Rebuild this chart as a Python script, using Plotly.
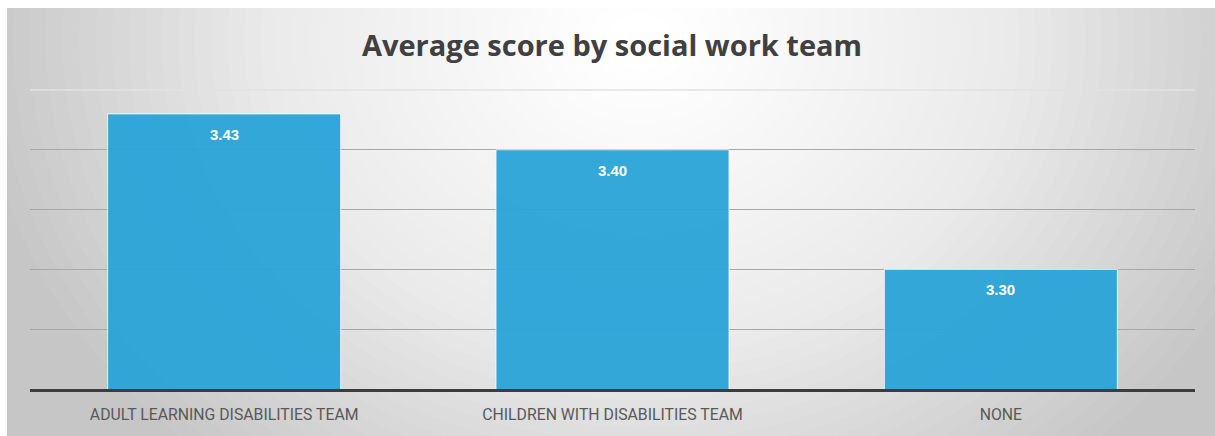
import plotly.graph_objects as go

# Chart data
teams = ["ADULT LEARNING DISABILITIES TEAM", "CHILDREN WITH DISABILITIES TEAM", "NONE"]
avg_scores = [3.43, 3.40, 3.30]
score_labels = [f"{v:.2f}" for v in avg_scores]
y_ticks = [3.25, 3.30, 3.35, 3.40]

W, H = 1215, 436
M_L, M_R, M_T, M_B = 30, 20, 90, 43
PW, PH = W - M_L - M_R, H - M_T - M_B


def px_x(px):
    return (px - M_L) / PW


def px_y(py):
    return (H - M_B - py) / PH


shapes = []
# grey card behind everything (white strip left on the top and left edges)
shapes.append(dict(type="rect", xref="paper", yref="paper", layer="below",
                   x0=px_x(7), x1=px_x(W + 5), y0=px_y(H + 5), y1=px_y(7),
                   fillcolor="#c6c6c6", line=dict(width=0)))

# soft radial highlight built from nested translucent white ellipses
N = 40
cx, cy, rx, ry = 640, 40, 660, 560
prev_t = 0.0
for k in range(1, N + 1):
    r_outer = 1 - (k - 1) / N
    r_inner = 1 - k / N
    t = 1 - r_inner ** 2
    a = (t - prev_t) / (1 - prev_t) if prev_t < 1 else 1
    prev_t = t
    shapes.append(dict(type="circle", xref="paper", yref="paper", layer="below",
                       x0=px_x(cx - rx * r_outer), x1=px_x(cx + rx * r_outer),
                       y0=px_y(cy + ry * r_outer), y1=px_y(cy - ry * r_outer),
                       fillcolor="white", opacity=min(a, 1), line=dict(width=0)))

# faint top gridline
shapes.append(dict(type="line", xref="paper", yref="paper", layer="below",
                   x0=0, x1=1, y0=1, y1=1, line=dict(color="#e2e2e2", width=1.5)))

fig = go.Figure()
fig.add_trace(go.Bar(
    x=teams, y=avg_scores,
    marker=dict(color="#2aa4d8", line=dict(color="rgba(255,255,255,0.8)", width=1)),
    opacity=0.95,
    hoverinfo="skip",
))

annotations = [
    dict(x=t, y=v, text=lbl, showarrow=False, xref="x", yref="y",
         yanchor="top", yshift=-10,
         font=dict(family="Liberation Sans, Arial", size=15, color="white", weight="bold"))
    for t, v, lbl in zip(teams, avg_scores, score_labels)
]

fig.update_layout(
    width=W, height=H,
    margin=dict(l=M_L, r=M_R, t=M_T, b=M_B, pad=0),
    paper_bgcolor="white",
    plot_bgcolor="rgba(0,0,0,0)",
    shapes=shapes,
    annotations=annotations,
    bargap=0.4,
    showlegend=False,
    title=dict(text="Average score by social work team", x=612 / W, xanchor="center",
               y=1 - 46 / H, yanchor="middle", xref="container", yref="container",
               font=dict(family="Open Sans", size=29, color="#404040", weight="bold")),
    xaxis=dict(showline=True, linecolor="#3c3c3c", linewidth=2.5, ticks="",
               showgrid=False, zeroline=False,
               tickfont=dict(family="Roboto", size=15.8, color="#595959"),
               ticklabelstandoff=9),
    yaxis=dict(range=[3.20, 3.45], tickvals=y_ticks, showticklabels=False,
               showgrid=True, gridcolor="#a8a8a8", gridwidth=1.2,
               zeroline=False, showline=False, ticks=""),
)

fig.write_html("out.html")
